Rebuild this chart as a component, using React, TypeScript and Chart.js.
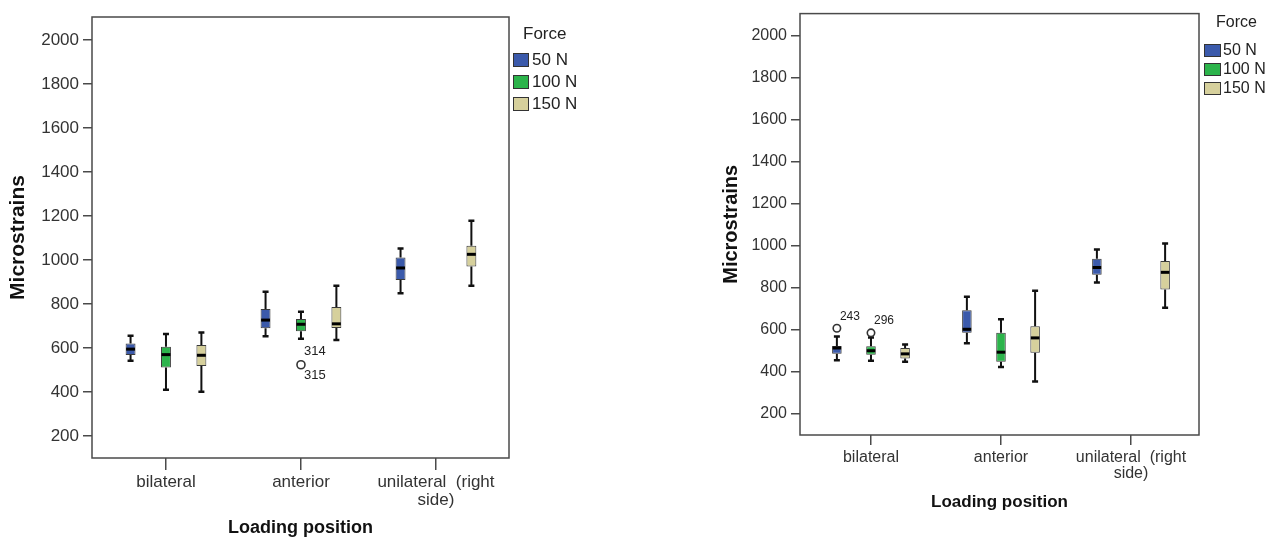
import React, { useEffect, useRef } from 'react';
import { Chart, registerables } from 'chart.js';

Chart.register(...registerables);

const FONT = "'Liberation Sans', Arial, Helvetica, sans-serif";

// ---------- data ----------
const categoryLabels = ['bilateral', 'anterior', 'unilateral  (right\nside)'];
const forceLabels = ['50 N', '100 N', '150 N'];
const forceColors = ['#3b5aab', '#2cb44b', '#d6d09c'];
const yTickValues = [200, 400, 600, 800, 1000, 1200, 1400, 1600, 1800, 2000];

type Box = [number, number, number, number, number] | null; // [min, q1, median, q3, max]

// left panel
const leftForce50: Box[] = [
  [542, 568, 595, 621, 656],
  [653, 690, 727, 777, 856],
  [849, 909, 964, 1012, 1053],
];
const leftForce100: Box[] = [
  [410, 512, 570, 606, 664],
  [642, 676, 708, 732, 765],
  null,
];
const leftForce150: Box[] = [
  [401, 518, 567, 614, 671],
  [636, 691, 710, 786, 883],
  [883, 971, 1026, 1065, 1179],
];
const leftOutliers = [{ category: 1, force: 1, value: 524, labels: ['314', '315'] }];

// right panel
const rightForce50: Box[] = [
  [456, 487, 514, 523, 569],
  [536, 586, 603, 694, 758],
  [826, 862, 897, 939, 983],
];
const rightForce100: Box[] = [
  [453, 482, 501, 522, 564],
  [424, 448, 494, 586, 651],
  null,
];
const rightForce150: Box[] = [
  [448, 464, 486, 514, 531],
  [355, 491, 562, 617, 786],
  [705, 792, 874, 928, 1011],
];
const rightOutliers = [
  { category: 0, force: 0, value: 608, labels: ['243'] },
  { category: 0, force: 1, value: 586, labels: ['296'] },
];

// ---------- layout specs ----------
interface Spec {
  series: Box[][];
  outliers: { category: number; force: number; value: number; labels: string[] }[];
  padding: { left: number; top: number; right: number; bottom: number };
  yWidth: number;
  xHeight: number;
  xMin: number;
  xMax: number;
  tickFont: number;
  yTitleFont: number;
  xTitleFont: number;
  xTickLen: number;
  xTickPad: number;
  yTickLen: number;
  yTickPad: number;
  capHalf: number;
  outlierR: number;
  outlierFont: number;
  legend: {
    titleX: number; titleY: number; boxX: number; boxW: number; boxH: number;
    boxY0: number; step: number; textX: number; font: number;
  };
}

const leftSpec: Spec = {
  series: [leftForce50, leftForce100, leftForce150],
  outliers: leftOutliers,
  padding: { left: 0, top: 17, right: 128, bottom: 0 },
  yWidth: 92,
  xHeight: 85,
  xMin: -0.548,
  xMax: 2.541,
  tickFont: 17,
  yTitleFont: 21,
  xTitleFont: 18,
  xTickLen: 12,
  xTickPad: 4,
  yTickLen: 9,
  yTickPad: 4,
  capHalf: 3,
  outlierR: 4,
  outlierFont: 13,
  legend: { titleX: 523, titleY: 34, boxX: 513, boxW: 16, boxH: 14, boxY0: 53, step: 22, textX: 532, font: 17 },
};

const rightSpec: Spec = {
  series: [rightForce50, rightForce100, rightForce150],
  outliers: rightOutliers,
  padding: { left: 76, top: 7, right: 76, bottom: 26 },
  yWidth: 87,
  xHeight: 82,
  xMin: -0.546,
  xMax: 2.523,
  tickFont: 16,
  yTitleFont: 20,
  xTitleFont: 17,
  xTickLen: 10,
  xTickPad: 4,
  yTickLen: 9,
  yTickPad: 4,
  capHalf: 3,
  outlierR: 3.7,
  outlierFont: 12,
  legend: { titleX: 579, titleY: 23, boxX: 567, boxW: 17, boxH: 13, boxY0: 44, step: 19, textX: 586, font: 16 },
};

function makePlugin(spec: Spec) {
  const findEl = (chart: any, force: number, category: number) => {
    const ds = chart.data.datasets[force];
    const meta = chart.getDatasetMeta(force);
    for (let j = 0; j < ds.data.length; j++) {
      if (ds.data[j].x === category) return meta.data[j];
    }
    return null;
  };
  return {
    id: 'boxExtras',
    beforeDatasetsDraw(chart: any) {
      const ctx = chart.ctx;
      const y = chart.scales.y;
      ctx.save();
      ctx.strokeStyle = '#111';
      chart.data.datasets.forEach((ds: any, di: number) => {
        const meta = chart.getDatasetMeta(di);
        meta.data.forEach((el: any, j: number) => {
          const b = spec.series[di][ds.data[j].x];
          if (!b) return;
          const x = el.x;
          ctx.lineWidth = 2;
          ctx.beginPath();
          ctx.moveTo(x, y.getPixelForValue(b[4]));
          ctx.lineTo(x, y.getPixelForValue(b[3]));
          ctx.moveTo(x, y.getPixelForValue(b[1]));
          ctx.lineTo(x, y.getPixelForValue(b[0]));
          ctx.stroke();
          ctx.lineWidth = 2.5;
          ctx.beginPath();
          [b[0], b[4]].forEach((v) => {
            const py = y.getPixelForValue(v);
            ctx.moveTo(x - spec.capHalf, py);
            ctx.lineTo(x + spec.capHalf, py);
          });
          ctx.stroke();
        });
      });
      ctx.restore();
    },
    afterDatasetsDraw(chart: any) {
      const ctx = chart.ctx;
      const y = chart.scales.y;
      ctx.save();
      // medians
      ctx.strokeStyle = '#000';
      ctx.lineWidth = 3;
      chart.data.datasets.forEach((ds: any, di: number) => {
        const meta = chart.getDatasetMeta(di);
        meta.data.forEach((el: any, j: number) => {
          const b = spec.series[di][ds.data[j].x];
          if (!b) return;
          const py = y.getPixelForValue(b[2]);
          ctx.beginPath();
          ctx.moveTo(el.x - el.width / 2 + 0.5, py);
          ctx.lineTo(el.x + el.width / 2 - 0.5, py);
          ctx.stroke();
        });
      });
      // outliers
      spec.outliers.forEach((o) => {
        const el = findEl(chart, o.force, o.category);
        if (!el) return;
        const px = el.x;
        const py = y.getPixelForValue(o.value);
        ctx.beginPath();
        ctx.arc(px, py, spec.outlierR, 0, Math.PI * 2);
        ctx.fillStyle = '#fff';
        ctx.fill();
        ctx.lineWidth = 1.6;
        ctx.strokeStyle = '#333';
        ctx.stroke();
        ctx.fillStyle = '#222';
        ctx.font = `${spec.outlierFont}px ${FONT}`;
        ctx.textAlign = 'left';
        ctx.textBaseline = 'middle';
        if (o.labels.length > 1) {
          ctx.fillText(o.labels[0], px + 3, py - 13);
          ctx.fillText(o.labels[1], px + 3, py + 11);
        } else {
          ctx.fillText(o.labels[0], px + 3, py - 12);
        }
      });
      ctx.restore();
    },
    afterDraw(chart: any) {
      const ctx = chart.ctx;
      const a = chart.chartArea;
      ctx.save();
      ctx.strokeStyle = '#4a4a4a';
      ctx.lineWidth = 1.5;
      ctx.strokeRect(a.left, a.top, a.right - a.left, a.bottom - a.top);
      const L = spec.legend;
      ctx.fillStyle = '#222';
      ctx.font = `${L.font}px ${FONT}`;
      ctx.textAlign = 'left';
      ctx.textBaseline = 'middle';
      ctx.fillText('Force', L.titleX, L.titleY);
      forceLabels.forEach((lab, i) => {
        const by = L.boxY0 + i * L.step;
        ctx.fillStyle = forceColors[i];
        ctx.fillRect(L.boxX, by, L.boxW, L.boxH);
        ctx.strokeStyle = '#333';
        ctx.lineWidth = 1;
        ctx.strokeRect(L.boxX + 0.5, by + 0.5, L.boxW - 1, L.boxH - 1);
        ctx.fillStyle = '#222';
        ctx.fillText(lab, L.textX, by + L.boxH / 2 + 0.5);
      });
      ctx.restore();
    },
  };
}

function buildConfig(spec: Spec): any {
  const datasets = spec.series.map((boxes, fi) => ({
    label: forceLabels[fi],
    data: boxes
      .map((b, ci) => (b ? { x: ci, y: [b[1], b[3]] } : null))
      .filter((p) => p !== null),
    backgroundColor: forceColors[fi],
    borderColor: '#3a3a3a',
    borderWidth: 1,
    borderSkipped: false,
    categoryPercentage: 0.787,
    barPercentage: 0.28,
  }));
  return {
    type: 'bar',
    data: { datasets },
    options: {
      responsive: false,
      maintainAspectRatio: false,
      animation: false,
      devicePixelRatio: 1,
      layout: { padding: spec.padding },
      plugins: { legend: { display: false }, tooltip: { enabled: false } },
      scales: {
        x: {
          type: 'linear',
          min: spec.xMin,
          max: spec.xMax,
          offset: false,
          afterBuildTicks: (s: any) => {
            s.ticks = categoryLabels.map((_, i) => ({ value: i }));
          },
          afterFit: (s: any) => {
            s.height = spec.xHeight;
          },
          ticks: {
            autoSkip: false,
            maxRotation: 0,
            minRotation: 0,
            padding: spec.xTickPad,
            color: '#333',
            font: { family: FONT, size: spec.tickFont, lineHeight: 1.02 },
            callback: (v: number) => {
              const lab = categoryLabels[Math.round(v)];
              return lab ? lab.split('\n') : '';
            },
          },
          grid: {
            display: true,
            offset: false,
            drawOnChartArea: false,
            drawTicks: true,
            tickLength: spec.xTickLen,
            color: '#4a4a4a',
            lineWidth: 1.5,
          },
          border: { display: false },
          title: {
            display: true,
            text: 'Loading position',
            color: '#111',
            font: { family: FONT, size: spec.xTitleFont, weight: 'bold' },
            padding: { top: 0, bottom: 4 },
          },
        },
        y: {
          type: 'linear',
          min: 100,
          max: 2105,
          afterBuildTicks: (s: any) => {
            s.ticks = yTickValues.map((v) => ({ value: v }));
          },
          afterFit: (s: any) => {
            s.width = spec.yWidth;
          },
          ticks: {
            padding: spec.yTickPad,
            color: '#333',
            font: { family: FONT, size: spec.tickFont },
            callback: (v: number) => String(v),
          },
          grid: {
            display: true,
            drawOnChartArea: false,
            drawTicks: true,
            tickLength: spec.yTickLen,
            color: '#4a4a4a',
            lineWidth: 1.5,
          },
          border: { display: false },
          title: {
            display: true,
            text: 'Microstrains',
            color: '#111',
            font: { family: FONT, size: spec.yTitleFont, weight: 'bold' },
            padding: { top: 6, bottom: 0 },
          },
        },
      },
    },
    plugins: [makePlugin(spec)],
  };
}

function Panel({ spec, left, width }: { spec: Spec; left: number; width: number }) {
  const ref = useRef<HTMLCanvasElement | null>(null);
  useEffect(() => {
    if (!ref.current) return;
    const chart = new Chart(ref.current, buildConfig(spec));
    return () => chart.destroy();
  }, [spec]);
  return (
    <canvas
      ref={ref}
      width={width}
      height={543}
      style={{ position: 'absolute', left, top: 0, width, height: 543 }}
    />
  );
}

export default function App() {
  return (
    <div style={{ position: 'absolute', left: 0, top: 0, width: 1275, height: 543, background: '#fff', overflow: 'hidden' }}>
      <Panel spec={leftSpec} left={0} width={637} />
      <Panel spec={rightSpec} left={637} width={638} />
    </div>
  );
}
